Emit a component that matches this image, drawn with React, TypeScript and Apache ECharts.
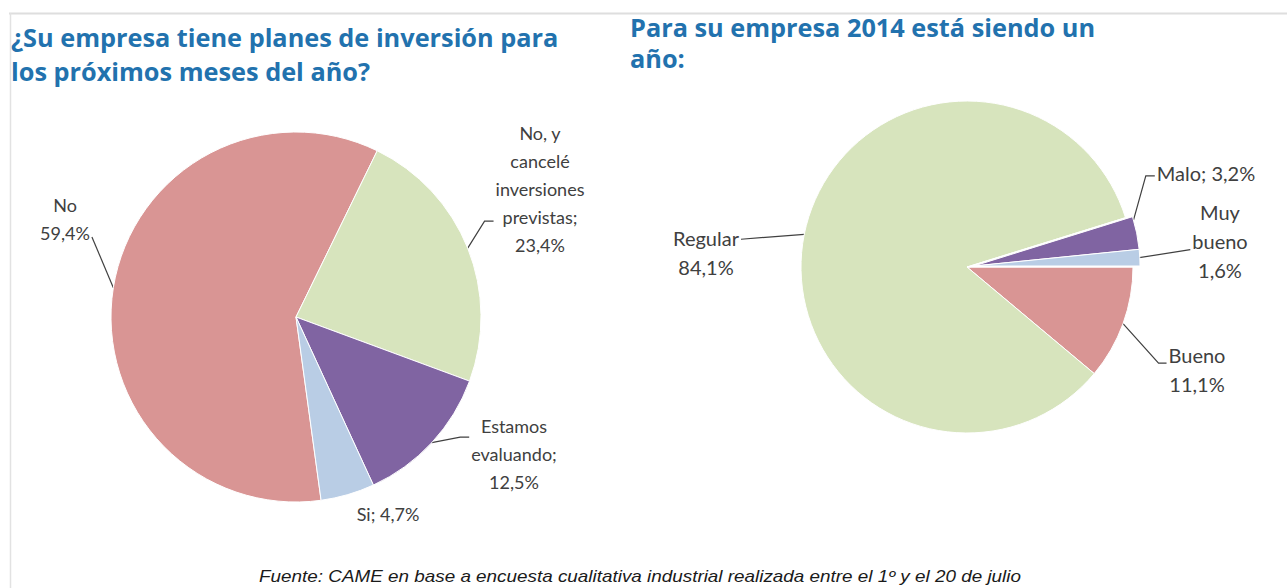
import React, { useEffect, useRef } from 'react';
import * as echarts from 'echarts';

// Left pie: "¿Su empresa tiene planes de inversión...?"
const leftTitle = '¿Su empresa tiene planes de inversión para\nlos próximos meses del año?';
const leftNames = ['No', 'No, y cancelé inversiones previstas', 'Estamos evaluando', 'Si'];
const leftValues = [59.4, 23.4, 12.5, 4.7];
const leftLabelHeads = ['No\n', 'No, y\ncancelé\ninversiones\nprevistas;\n', 'Estamos\nevaluando;\n', 'Si; '];
const leftColors = ['#D99594', '#D7E4BD', '#8064A2', '#B9CDE5'];

// Right pie: "Para su empresa 2014 está siendo un año:"
const rightTitle = 'Para su empresa 2014 está siendo un\naño:';
const rightNames = ['Bueno', 'Regular', 'Malo', 'Muy bueno'];
const rightValues = [11.1, 84.1, 3.2, 1.6];
const rightLabelHeads = ['Bueno\n', 'Regular\n', 'Malo; ', 'Muy\nbueno\n'];
const rightColors = ['#D99594', '#D7E4BD', '#8064A2', '#B9CDE5'];
const rightExploded = [false, false, true, true];

const sourceText = 'Fuente: CAME en base a encuesta cualitativa industrial realizada entre el 1º y el 20 de julio';

// layout: label block centres
const leftLabelPos = [[65, 219], [540, 189], [514, 454], [388, 514]];
const rightLabelPos = [[1197, 369], [706, 252], [1206, 173], [1220, 241]];
// leader anchor on label box: [fraction x, fraction y, horizontal stub length] (null = no leader)
const leftLeader: (number[] | null)[] = [[1, 0.82, 0], [0, 0.73, 9], [0, 0.3, 9], null];
const rightLeader: (number[] | null)[] = [[0, 0.4, 8], [1, 0.28, 0], [0, 0.6, 9], [0, 0.6, 0]];

const fmt = (v: number) => v.toFixed(1).replace('.', ',') + '%';

const labelFont = 'Lato';
const labelColor = '#404040';
const titleColor = '#2272AE';
const hidden = 'rgba(0,0,0,0)';

function makePie(
  names: string[], values: number[], heads: string[], colors: string[],
  pos: number[][], leaders: (number[] | null)[], center: number[], radius: number,
  startAngle: number, fontSize: number, lineHeight: number, exploded: boolean[]
) {
  return {
    type: 'pie',
    center,
    radius,
    startAngle,
    clockwise: true,
    avoidLabelOverlap: false,
    silent: true,
    emphasis: { disabled: true },
    itemStyle: { borderColor: '#ffffff', borderWidth: 1 },
    data: names.map((n, i) => ({
      name: n,
      value: values[i],
      itemStyle: exploded[i] ? { color: '#ffffff' } : { color: colors[i] },
      labelLine: { show: leaders[i] !== null },
    })),
    label: {
      show: true,
      position: 'outside',
      formatter: (p: any) => heads[p.dataIndex] + fmt(p.value),
      fontFamily: labelFont,
      fontSize,
      lineHeight,
      color: labelColor,
      align: 'center',
    },
    labelLine: {
      show: true,
      length: 10,
      length2: 8,
      smooth: false,
      lineStyle: { color: labelColor, width: 1.2 },
    },
    labelLayout: (p: any) => {
      const i = p.dataIndex;
      const x = pos[i][0];
      const y = pos[i][1];
      const out: any = { x, y, align: 'center', verticalAlign: 'middle' };
      const spec = leaders[i];
      if (spec && p.labelLinePoints && p.labelRect) {
        const w = p.labelRect.width;
        const h = p.labelRect.height;
        const left = x - w / 2;
        const top = y - h / 2;
        const dir = spec[0] === 0 ? -1 : 1;
        const ex = left + spec[0] * w + dir * 2;
        const ey = top + spec[1] * h;
        const elbow = [ex + dir * spec[2], ey];
        out.labelLinePoints = [p.labelLinePoints[0], elbow, [ex, ey]];
      }
      return out;
    },
  };
}

// exploded slices drawn on top, pulled slightly outward
function makeExplodedPie(
  names: string[], values: number[], colors: string[], exploded: boolean[],
  center: number[], radius: number, startAngle: number
) {
  return {
    type: 'pie',
    center,
    radius,
    startAngle,
    clockwise: true,
    silent: true,
    emphasis: { disabled: true },
    label: { show: false },
    labelLine: { show: false },
    data: names.map((n, i) => ({
      name: n,
      value: values[i],
      itemStyle: exploded[i]
        ? { color: colors[i], borderColor: '#ffffff', borderWidth: 1 }
        : { color: hidden, borderWidth: 0 },
    })),
  };
}

export default function App() {
  const ref = useRef<HTMLDivElement>(null);
  useEffect(() => {
    if (!ref.current) return;
    const chart = echarts.init(ref.current, undefined, { renderer: 'svg' });
    chart.setOption({
      animation: false,
      backgroundColor: '#ffffff',
      title: [
        {
          text: leftTitle, left: 11, top: 20, padding: 0,
          textStyle: { fontFamily: 'Open Sans', fontSize: 25.3, fontWeight: 'bold', color: titleColor, lineHeight: 34 },
        },
        {
          text: rightTitle, left: 630, top: 11, padding: 0,
          textStyle: { fontFamily: 'Open Sans', fontSize: 25.3, fontWeight: 'bold', color: titleColor, lineHeight: 31 },
        },
      ],
      graphic: [
        { type: 'line', shape: { x1: 9, y1: 13.5, x2: 1287, y2: 13.5 }, style: { stroke: '#dedede', lineWidth: 2 }, silent: true },
        { type: 'line', shape: { x1: 10.5, y1: 13, x2: 10.5, y2: 588 }, style: { stroke: '#e2e2e2', lineWidth: 1.5 }, silent: true },
        {
          type: 'text', x: 640, y: 577, scaleX: 1.18, silent: true,
          style: {
            text: sourceText, font: 'italic 16px "Liberation Sans"', fill: '#1a1a1a',
            textAlign: 'center', textVerticalAlign: 'middle',
          },
        },
      ],
      series: [
        makePie(leftNames, leftValues, leftLabelHeads, leftColors, leftLabelPos, leftLeader,
          [296, 317], 185, -82.2, 18, 28, [false, false, false, false]),
        makePie(rightNames, rightValues, rightLabelHeads, rightColors, rightLabelPos, rightLeader,
          [967, 267], 166, 0, 20, 29, rightExploded),
        makeExplodedPie(rightNames, rightValues, rightColors, rightExploded, [974, 266], 166, 0),
      ],
    });
    return () => chart.dispose();
  }, []);
  return <div ref={ref} style={{ position: 'fixed', left: 0, top: 0, width: 1287, height: 588 }} />;
}
